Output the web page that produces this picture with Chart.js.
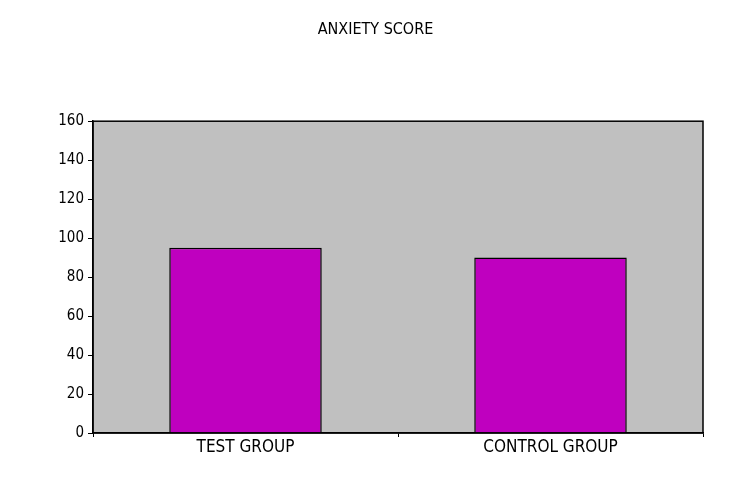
<!DOCTYPE html>
<html>
<head>
<meta charset="utf-8">
<script src="https://cdn.jsdelivr.net/npm/chart.js@4"></script>
<style>
  html, body { margin: 0; padding: 0; background: #fff; }
  #wrap { width: 742px; height: 477px; }
</style>
</head>
<body>
<div id="wrap"><canvas id="chart" width="742" height="477"></canvas></div>
<script>
const categories = ["TEST GROUP", "CONTROL GROUP"];
const scores = [95, 90];
const yTicks = [0, 20, 40, 60, 80, 100, 120, 140, 160];

const FONT = "'Liberation Sans Narrow', 'Arial Narrow', 'DejaVu Sans Condensed', 'Liberation Sans', Arial, sans-serif";

const plotArea = {
    id: "plotArea",
    afterLayout: (chart) => {
        // centre the title over the whole page, not just the padded box
        if (chart.titleBlock) chart.titleBlock.right += 48;
    },
    beforeDraw: (chart) => {
        const a = chart.chartArea;
        const c = chart.ctx;
        c.save();
        c.fillStyle = "#c0c0c0";
        c.fillRect(a.left, a.top, a.right - a.left, a.bottom - a.top);
        c.restore();
    },
    afterDraw: (chart) => {
        const a = chart.chartArea;
        const c = chart.ctx;
        c.save();
        c.strokeStyle = "#000";
        c.lineWidth = 1.5;
        c.strokeRect(a.left, a.top, a.right - a.left, a.bottom - a.top);
        c.restore();
    },
};

const ctx = document.getElementById("chart");
new Chart(ctx, {
    type: "bar",
    data: {
        labels: categories,
        datasets: [
            {
                label: "ANXIETY SCORE",
                data: scores,
                backgroundColor: "#bf00bf",
                borderColor: "#000",
                borderWidth: 1.5,
                barPercentage: 1,
                categoryPercentage: 0.5,
            },
        ],
    },
    options: {
        responsive: false,
        animation: false,
        layout: { padding: { left: 0, right: 39, top: 0, bottom: 0 } },
        plugins: {
            legend: { display: false },
            tooltip: { enabled: false },
            title: {
                display: true,
                text: "ANXIETY SCORE",
                color: "#000",
                font: { family: FONT, size: 16, weight: "normal" },
                padding: { top: 20, bottom: 82 },
            },
        },
        scales: {
            x: {
                grid: { drawOnChartArea: false, color: "#000", tickLength: 4, offset: true },
                border: { color: "#000", width: 1.5 },
                ticks: { color: "#000", font: { family: FONT, size: 17 }, padding: 0 },
                afterFit: (s) => { s.height = 44; },
            },
            y: {
                min: 0,
                max: 160,
                afterBuildTicks: (s) => { s.ticks = yTicks.map((v) => ({ value: v })); },
                grid: { drawOnChartArea: false, color: "#000", tickLength: 5 },
                border: { color: "#000", width: 1.5 },
                ticks: { color: "#000", font: { family: FONT, size: 15 }, padding: 4 },
                afterFit: (s) => { s.width = 93; },
            },
        },
    },
    plugins: [plotArea],
});
</script>
</body>
</html>
